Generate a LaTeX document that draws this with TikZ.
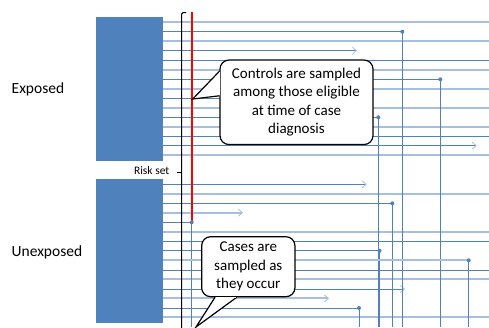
\documentclass[tikz,border=0pt]{standalone}
\usepackage{fontspec}
\setmainfont{Carlito}
\usepackage{xcolor}
\usepackage{tikz}
\usetikzlibrary{arrows.meta}
\usetikzlibrary{positioning}
\usetikzlibrary{calc}
\definecolor{officeblue}{RGB}{79,129,189}
\definecolor{paleblue}{RGB}{167,191,222}
\tikzset{
  pale/.style={draw=paleblue, line width=1.8pt},
  deep/.style={draw=officeblue, line width=1pt},
  barb/.style={-{Straight Barb[length=4pt, width=7pt, line width=0.8pt, color=paleblue]}},
  fall/.style={draw=officeblue, line width=1pt},
  event/.style={circle, fill=officeblue, inner sep=0pt, minimum size=4pt},
  callbox/.style={draw, line width=1.2pt, rounded corners=9pt, fill=white, align=center, inner sep=0pt, font=\fontsize{15}{18.5}\selectfont},
  pointer/.style={draw, line width=1.2pt, fill=white, line join=miter},
  grupo/.style={anchor=base west, inner sep=0pt, font=\fontsize{15.5}{18}\selectfont},
}

\begin{document}
\begin{tikzpicture}[x=1pt, y=-1pt]
  \path[use as bounding box, clip] (0,0) rectangle (489,327);
  \coordinate (floor) at (0,327);
  % follow-up lines running to the end
  \foreach \y/\s in {22/pale, 41/pale, 60.3/deep, 70/pale, 88.7/pale, 107.7/pale, 126.7/pale, 136.3/deep, 155.3/pale,
                     193.7/pale, 231.7/pale, 241.3/deep, 270/deep, 279.3/pale, 317.3/pale}
    \draw[\s] (163,\y) -- (489,\y);
  % censored lines
  \foreach \y/\x/\s in {50.7/357/deep, 145.7/476.7/deep, 184.3/366.7/deep, 212.7/243/pale, 289/405/deep, 298.3/329/pale}
    \draw[\s, barb] (163,\y) -- (\x,\y);
  \draw[deep] (163,98.3) -- (300,98.3);
  % cases
  \foreach \y/\x/\s [count=\i] in {31.7/402.3/deep, 79.3/440.3/deep, 117.3/378.3/deep, 203.3/392.3/deep,
                                   222.3/191.7/deep, 250.7/379.5/deep, 260.3/468.7/pale, 308/359/deep} {
    \coordinate (case\i) at (\x,\y);
    \draw[\s] (163,\y) -- (case\i);
    \draw[fall] (case\i) -- (case\i |- floor);
  }
  \draw[red, line width=2pt] (191.7,12) -- (case5);
  \foreach \i in {1,...,8} \node[event] at (case\i) {};
  % risk set bracket
  \draw[line width=1pt, rounded corners=1.5pt] (186,12.5) -- (181.7,12.5) -- (181.7,331) -- (186,331);
  \draw[line width=1pt] (181.7,172) -- (176.5,172);
  \node[anchor=east, inner sep=0pt, font=\fontsize{11.5}{13}\selectfont] (riskset) at (169.5,170.5) {Risk set};
  % exposure groups
  \fill[officeblue] (96,17) rectangle (163,161);
  \fill[officeblue] (96,179) rectangle (163,323);
  \node[grupo] (exposed) at (11.5,93.5) {Exposed};
  \node[grupo] (unexposed) at (11.5,256.5) {Unexposed};
  % callouts
  \node[callbox, minimum width=153pt, minimum height=84.5pt] (controls) at (296.5,102.3)
    {Controls are sampled\\among those eligible\\at time of case\\diagnosis};
  \coordinate (tipa) at (192.7,99);
  \path[pointer] ($(controls.west)+(0,-31)$) -- (tipa) -- ($(controls.west)+(0,-6.5)$);
  \fill[white] ($(controls.west)+(0.8,-30.4)$) rectangle ($(controls.west)+(-0.8,-7.1)$);
  \node[callbox, minimum width=93.3pt, minimum height=60pt] (cases) at (248.3,266.7)
    {Cases are\\sampled as\\they occur};
  \coordinate (tipb) at (196,327);
  \path[pointer] ($(cases.south)+(-33.3,0)$) -- (tipb) -- ($(cases.south)+(-11.6,0)$);
  \fill[white] ($(cases.south)+(-32.7,-0.8)$) rectangle ($(cases.south)+(-12.2,0.8)$);
\end{tikzpicture}
\end{document}
